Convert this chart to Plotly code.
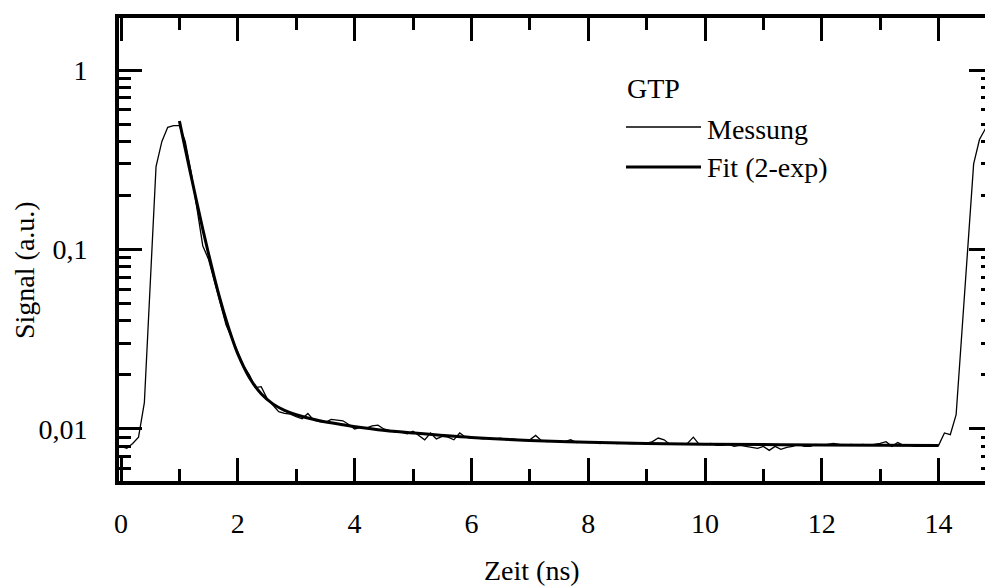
import numpy as np
import plotly.graph_objects as go

# ---------------- data ----------------
# Messung: sampled every 0.1 ns from 0.0 to 15.0 ns
t_mess = np.round(np.arange(0, 151) * 0.1, 2)
y_mess = [
    0.0080, 0.0078, 0.0083, 0.0090, 0.0140, 0.065, 0.29, 0.40, 0.48, 0.49,      # 0.0-0.9
    0.49, 0.40, 0.27, 0.17, 0.105, 0.088, 0.066, 0.050, 0.038, 0.032,          # 1.0-1.9
    0.027, 0.0225, 0.0200, 0.0170, 0.0172, 0.0148, 0.0136, 0.0125, 0.0122, 0.0121,  # 2.0-2.9
    0.0117, 0.0114, 0.0122, 0.0112, 0.0110, 0.0109, 0.0113, 0.0112, 0.0111, 0.0106,  # 3.0-3.9
    0.0100, 0.0102, 0.0101, 0.0104, 0.0105, 0.0100, 0.0098, 0.0096, 0.0096, 0.0094,  # 4.0-4.9
    0.0097, 0.0092, 0.0087, 0.0095, 0.0088, 0.0091, 0.0090, 0.0087, 0.0095, 0.0090,  # 5.0-5.9
    0.0089, 0.0089, 0.0088, 0.0089, 0.0088, 0.0089, 0.0087, 0.0088, 0.0087, 0.0086,  # 6.0-6.9
    0.0087, 0.0092, 0.0086, 0.0085, 0.0086, 0.0085, 0.0085, 0.0087, 0.0084, 0.0085,  # 7.0-7.9
    0.0084, 0.0085, 0.0083, 0.0084, 0.0084, 0.0083, 0.0084, 0.0083, 0.0083, 0.0084,  # 8.0-8.9
    0.0083, 0.0085, 0.0089, 0.0087, 0.0082, 0.0082, 0.0082, 0.0083, 0.0090, 0.0082,  # 9.0-9.9
    0.0082, 0.0083, 0.0081, 0.0081, 0.0082, 0.0080, 0.0081, 0.0080, 0.0079, 0.0078,  # 10.0-10.9
    0.0080, 0.0076, 0.0080, 0.0077, 0.0079, 0.0080, 0.0082, 0.0080, 0.0080, 0.0082,  # 11.0-11.9
    0.0081, 0.0082, 0.0083, 0.0082, 0.0081, 0.0082, 0.0081, 0.0082, 0.0081, 0.0082,  # 12.0-12.9
    0.0083, 0.0085, 0.0080, 0.0084, 0.0081, 0.0081, 0.0080, 0.0080, 0.0080, 0.0080,  # 13.0-13.9
    0.0081, 0.0095, 0.0093, 0.0120, 0.035, 0.110, 0.300, 0.41, 0.47, 0.49,      # 14.0-14.9
    0.48,                                                                       # 15.0
]

# Fit (2-exp)
t_fit = [1.0, 1.1, 1.2, 1.3, 1.4, 1.5, 1.6, 1.7, 1.8, 1.9, 2.0, 2.2, 2.4, 2.6, 2.8,
         3.0, 3.4, 3.8, 4.4, 5.0, 6.0, 7.0, 8.0, 9.0, 10.0, 12.0, 14.0]
y_fit = [0.520, 0.364, 0.257, 0.182, 0.130, 0.0944, 0.0696, 0.0524, 0.0405, 0.0321,
         0.0262, 0.0193, 0.0157, 0.0138, 0.0127, 0.0120, 0.0111, 0.01055, 0.0099,
         0.0095, 0.00896, 0.00863, 0.00843, 0.00831, 0.00823, 0.00815, 0.0081]

x_ticks = [0, 2, 4, 6, 8, 10, 12, 14]
y_ticks = [0.01, 0.1, 1]
y_ticktext = ["0,01", "0,1", "1"]
y_minor = [0.006, 0.007, 0.008, 0.009,
           0.02, 0.03, 0.04, 0.05, 0.06, 0.07, 0.08, 0.09,
           0.2, 0.3, 0.4, 0.5, 0.6, 0.7, 0.8, 0.9]

legend_title = "GTP"
name_mess = "Messung"
name_fit = "Fit (2-exp)"

# ---------------- layout geometry ----------------
W, H = 985, 588
ML, MR, MT, MB = 119, 0, 18, 107
PW = W - ML - MR
PH = H - MT - MB
FONT = "'Times New Roman', 'Liberation Serif', 'DejaVu Serif', serif"
FS = 28


def px(xp):
    return (xp - ML) / PW


def py(yp):
    return (H - MB - yp) / PH


fig = go.Figure()
fig.add_trace(go.Scatter(x=t_mess, y=y_mess, mode="lines", name=name_mess,
                         line=dict(color="black", width=1.3), showlegend=False))
fig.add_trace(go.Scatter(x=t_fit, y=y_fit, mode="lines", name=name_fit,
                         line=dict(color="black", width=3, shape="spline"),
                         showlegend=False))
# invisible trace to carry the right-hand mirrored y axis
fig.add_trace(go.Scatter(x=t_fit, y=y_fit, mode="lines", yaxis="y2",
                         line=dict(color="rgba(0,0,0,0)", width=0),
                         showlegend=False, hoverinfo="skip"))

xr0 = -2 / 58.4
xr1 = xr0 + PW / 58.4
yr = [-2.290, 0.290]

fig.update_layout(
    width=W, height=H, autosize=False,
    margin=dict(l=ML, r=MR, t=MT, b=MB, pad=0),
    paper_bgcolor="white", plot_bgcolor="white",
    font=dict(family=FONT, size=FS, color="black"),
    showlegend=False,
    xaxis=dict(
        range=[xr0, xr1], showgrid=False, zeroline=False,
        showline=True, linewidth=4, linecolor="black", mirror="ticks",
        ticks="inside", tickvals=x_ticks, ticklen=23, tickwidth=3, tickcolor="black",
        ticklabelstandoff=14,
        minor=dict(tickvals=[1, 3, 5, 7, 9, 11, 13], ticks="inside", ticklen=12,
                   tickwidth=3, tickcolor="black", showgrid=False),
        tickfont=dict(family=FONT, size=FS),
    ),
    yaxis=dict(
        type="log", range=yr, showgrid=False, zeroline=False,
        showline=True, linewidth=4, linecolor="black", mirror=False,
        ticks="inside", tickvals=y_ticks, ticktext=y_ticktext,
        ticklen=23, tickwidth=3, tickcolor="black",
        ticklabelstandoff=22,
        minor=dict(tickvals=y_minor, ticks="inside", ticklen=12, tickwidth=3,
                   tickcolor="black", showgrid=False),
        tickfont=dict(family=FONT, size=FS),
    ),
    yaxis2=dict(
        type="log", range=yr, overlaying="y", side="right", anchor="x",
        showgrid=False, zeroline=False, showline=False, showticklabels=False,
        ticks="inside", tickvals=y_ticks, ticklen=16, tickwidth=3, tickcolor="black",
        minor=dict(tickvals=y_minor, ticks="inside", ticklen=4, tickwidth=3,
                   tickcolor="black", showgrid=False),
    ),
)

# axis titles
fig.add_annotation(text="Zeit (ns)", xref="paper", yref="paper",
                   x=px(532), y=py(570), xanchor="center", yanchor="middle",
                   showarrow=False, font=dict(family=FONT, size=FS))
fig.add_annotation(text="Signal (a.u.)", xref="paper", yref="paper",
                   x=px(24), y=py(270), xanchor="center", yanchor="middle",
                   textangle=-90, showarrow=False, font=dict(family=FONT, size=FS))

# legend block
fig.add_annotation(text=legend_title, xref="paper", yref="paper",
                   x=px(625), y=py(88), xanchor="left", yanchor="middle",
                   showarrow=False, font=dict(family=FONT, size=FS))
fig.add_shape(type="line", xref="paper", yref="paper",
              x0=px(626), x1=px(701), y0=py(127), y1=py(127),
              line=dict(color="black", width=1.3))
fig.add_shape(type="line", xref="paper", yref="paper",
              x0=px(626), x1=px(701), y0=py(167), y1=py(167),
              line=dict(color="black", width=3))
fig.add_annotation(text=name_mess, xref="paper", yref="paper",
                   x=px(705), y=py(129), xanchor="left", yanchor="middle",
                   showarrow=False, font=dict(family=FONT, size=FS))
fig.add_annotation(text=name_fit, xref="paper", yref="paper",
                   x=px(705), y=py(167), xanchor="left", yanchor="middle",
                   showarrow=False, font=dict(family=FONT, size=FS))

fig.write_html("out.html")
